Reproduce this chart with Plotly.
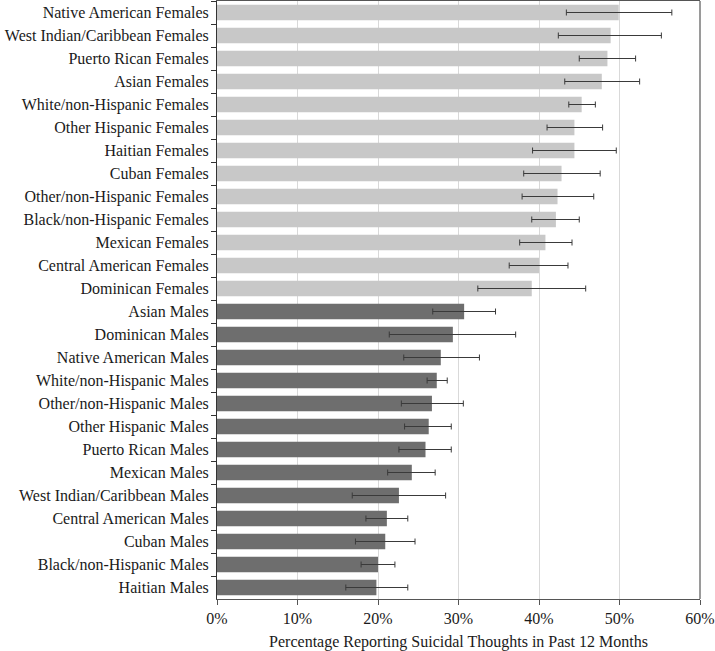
import plotly.graph_objects as go

# groups, top to bottom as in the chart
female_groups = [
    "Native American Females", "West Indian/Caribbean Females", "Puerto Rican Females",
    "Asian Females", "White/non-Hispanic Females", "Other Hispanic Females",
    "Haitian Females", "Cuban Females", "Other/non-Hispanic Females",
    "Black/non-Hispanic Females", "Mexican Females", "Central American Females",
    "Dominican Females",
]
female_pct = [49.9, 48.9, 48.5, 47.8, 45.3, 44.4, 44.4, 42.8, 42.3, 42.1, 40.8, 40.0, 39.1]
female_low = [43.4, 42.4, 45.0, 43.2, 43.7, 41.0, 39.2, 38.1, 37.9, 39.1, 37.6, 36.3, 32.4]
female_high = [56.5, 55.2, 52.0, 52.5, 47.0, 47.9, 49.6, 47.6, 46.8, 45.0, 44.1, 43.6, 45.8]

male_groups = [
    "Asian Males", "Dominican Males", "Native American Males", "White/non-Hispanic Males",
    "Other/non-Hispanic Males", "Other Hispanic Males", "Puerto Rican Males",
    "Mexican Males", "West Indian/Caribbean Males", "Central American Males",
    "Cuban Males", "Black/non-Hispanic Males", "Haitian Males",
]
male_pct = [30.7, 29.3, 27.8, 27.3, 26.7, 26.3, 25.9, 24.2, 22.6, 21.1, 20.9, 20.0, 19.8]
male_low = [26.8, 21.4, 23.2, 26.1, 22.9, 23.3, 22.6, 21.2, 16.8, 18.5, 17.2, 17.9, 16.0]
male_high = [34.6, 37.1, 32.6, 28.6, 30.6, 29.1, 29.1, 27.1, 28.4, 23.7, 24.6, 22.1, 23.7]

x_ticks = [0, 10, 20, 30, 40, 50, 60]

serif = "Liberation Serif, Times New Roman, serif"


def bar_trace(groups, pct, low, high, color):
    return go.Bar(
        y=groups,
        x=[p / 100 for p in pct],
        orientation="h",
        marker=dict(color=color, line=dict(width=0)),
        error_x=dict(
            type="data",
            symmetric=False,
            array=[(h - p) / 100 for h, p in zip(high, pct)],
            arrayminus=[(p - l) / 100 for p, l in zip(pct, low)],
            color="#3a3a3a",
            thickness=1,
            width=3,
        ),
        showlegend=False,
        hoverinfo="skip",
    )


fig = go.Figure([
    bar_trace(female_groups, female_pct, female_low, female_high, "#c8c8c8"),
    bar_trace(male_groups, male_pct, male_low, male_high, "#6e6e6e"),
])

fig.update_layout(
    width=715,
    height=651,
    margin=dict(l=217, r=15, t=1, b=52),
    paper_bgcolor="white",
    plot_bgcolor="white",
    bargap=0.33,
    font=dict(family=serif, size=16, color="#1a1a1a"),
    shapes=[dict(type="line", xref="paper", yref="paper", x0=1, x1=1, y0=0, y1=1,
                 line=dict(color="#9a9a9a", width=2))],
)

fig.update_xaxes(
    range=[0, 0.6],
    tickvals=[t / 100 for t in x_ticks],
    ticktext=[f"{t}%" for t in x_ticks],
    showgrid=True,
    gridcolor="#d9d9d9",
    gridwidth=1,
    showline=True,
    linecolor="#555555",
    linewidth=1,
    mirror=True,
    ticks="outside",
    ticklen=5,
    tickcolor="#555555",
    zeroline=False,
    title=dict(text="Percentage Reporting Suicidal Thoughts in Past 12 Months",
               font=dict(size=16), standoff=9),
)

fig.update_yaxes(
    categoryorder="array",
    categoryarray=female_groups + male_groups,
    autorange="reversed",
    showline=True,
    linecolor="#333333",
    linewidth=1,
    ticks="outside",
    ticklen=5,
    tickcolor="#333333",
    tickson="boundaries",
    showgrid=False,
    ticklabelstandoff=4,
)

# the page has a default 8px body margin; drop it so the figure fills the window
fig.write_html("out.html", config={"displayModeBar": False},
               post_script="document.body.style.margin = '0';")
